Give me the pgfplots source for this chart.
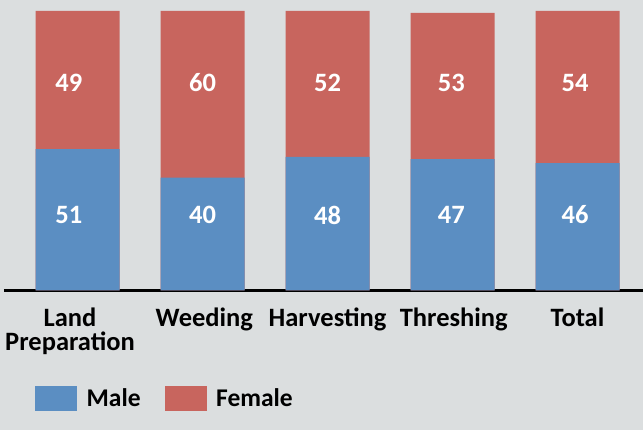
\documentclass[border=0pt]{standalone}
\usepackage{pgfplots}
\pgfplotsset{compat=1.18}
\usepackage{pgfplotstable}
\usepackage{fontspec}
\setmainfont{Carlito}

\definecolor{bgray}{RGB}{219,222,223}
\definecolor{maleblue}{RGB}{91,142,194}
\definecolor{femred}{RGB}{200,101,94}

\newcommand{\chartfont}{\fontsize{26.5}{24}\selectfont\bfseries}
\newcommand{\legfont}{\fontsize{25.5}{24}\selectfont\bfseries}

% shares in percent; labels as printed
\pgfplotstableread{
x lx    male female mlab flab
0 -0.07 50.6 49.4   51   49
1 1     40.4 59.6   40   60
2 2     47.8 52.2   48   52
3 2.99  47.0 52.3   47   53
4 3.98  45.6 54.4   46   54
}\shares

\begin{document}
\begin{tikzpicture}
\fill[bgray] (0,0) rectangle (643pt,430pt);
\begin{axis}[
    at={(4pt,139.5pt)}, anchor=south west,
    scale only axis,
    width=639pt, height=279.5pt,
    xmin=-0.588, xmax=4.524,
    ymin=0, ymax=100,
    clip=false,
    axis x line*=bottom,
    axis y line=none,
    x axis line style={-, line width=2.5pt, black},
    xtick={-0.06,1.015,2,3.01,4},
    xticklabels={Land\\Preparation,Weeding,Harvesting,Threshing,Total},
    xtick style={draw=none},
    ytick=\empty,
    xticklabel style={align=center, font=\chartfont, text=black, yshift=-14pt},
    bar width=84pt, bar shift=0pt,
    legend image code/.code={\fill[#1] (0pt,-12.5pt) rectangle (42pt,12.5pt);},
    legend style={at={(0.0485,-0.3864)}, anchor=west, draw=none, fill=none,
        inner sep=0pt, font=\legfont,
        /tikz/every odd column/.append style={column sep=7.5pt},
        /tikz/every even column/.append style={column sep=22pt}},
    legend columns=2,
  ]
  % female drawn to the top of the stack, male over it
  \addplot[ybar, fill=femred, draw=none, forget plot]
    table[x=x, y expr=\thisrow{male}+\thisrow{female}] {\shares};
  \addplot[ybar, fill=maleblue, draw=none, forget plot]
    table[x=x, y=male] {\shares};

  % value labels, set at fixed heights as in the reference
  \addplot[draw=none, mark=none, forget plot, nodes near coords,
    point meta=explicit symbolic,
    every node near coord/.style={anchor=center, text=white, font=\chartfont}]
    table[x=lx, y expr=27, meta=mlab] {\shares};
  \addplot[draw=none, mark=none, forget plot, nodes near coords,
    point meta=explicit symbolic,
    every node near coord/.style={anchor=center, text=white, font=\chartfont}]
    table[x=lx, y expr=74.3, meta=flab] {\shares};

  \addlegendimage{fill=maleblue, draw=none}
  \addlegendentry{Male}
  \addlegendimage{fill=femred, draw=none}
  \addlegendentry{Female}
\end{axis}
\pgfresetboundingbox
\path[use as bounding box] (0,0) rectangle (643pt,430pt);
\end{tikzpicture}
\end{document}
